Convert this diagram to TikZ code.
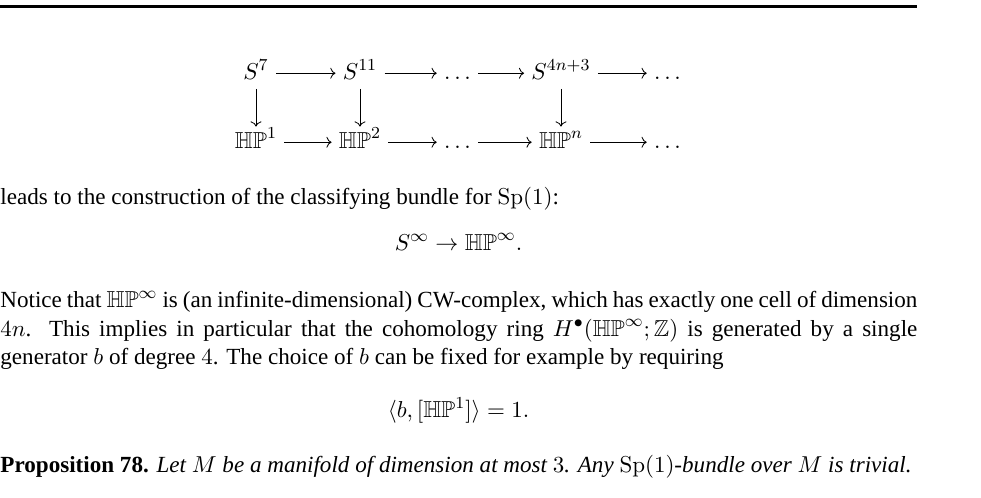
\documentclass[tikz,border=0pt]{standalone}
\usepackage{amssymb}
\usepackage[no-math]{fontspec}
\setmainfont{Liberation Serif}
\usetikzlibrary{arrows.meta}
\newcommand{\HPq}{\mathbb{HP}}
\tikzset{
  body/.style={font=\fontsize{11}{13.6}\selectfont},
  txt/.style={body, anchor=base west, inner sep=0pt},
  ctr/.style={body, anchor=base, inner sep=0pt},
  cell/.style={body, anchor=base, inner xsep=3.3pt, inner ysep=3.5pt, text height=6.5pt, text depth=1pt},
  arr/.style={-{Computer Modern Rightarrow}, line width=0.4pt},
}
\begin{document}
\begin{tikzpicture}[x=0.47619pt, y=-0.47619pt]
\useasboundingbox (0,0) rectangle (981,497);
% header rule
\coordinate (rl) at (0,6.5);
\coordinate (rr) at (917,6.5);
\draw[line width=1.2pt] (rl) -- (rr);
% diagram
\node[cell] (s7)  at (256,79) {$S^7$};
\node[cell] (s11) at (360,79) {$S^{11}$};
\node[cell] (d1)  at (457.5,79) {$\ldots$};
\node[cell] (s4n) at (561,79) {$S^{4n+3}$};
\node[cell] (d2)  at (667.5,79) {$\ldots$};
\node[cell] (h1)  at (256,148) {$\HPq^1$};
\node[cell] (h2)  at (360,148) {$\HPq^2$};
\node[cell] (d3)  at (457.5,148) {$\ldots$};
\node[cell] (hn)  at (561,148) {$\HPq^n$};
\node[cell] (d4)  at (667.5,148) {$\ldots$};
\draw[arr] (s7) -- (s11);
\draw[arr] (s11) -- (d1);
\draw[arr] (d1) -- (s4n);
\draw[arr] (s4n) -- (d2);
\draw[arr] (h1) -- (h2);
\draw[arr] (h2) -- (d3);
\draw[arr] (d3) -- (hn);
\draw[arr] (hn) -- (d4);
\draw[arr] (s7) -- (h1);
\draw[arr] (s11) -- (h2);
\draw[arr] (s4n) -- (hn);
% text
\node[txt] (t1) at (0,204) {leads to the construction of the classifying bundle for $\mathrm{Sp}(1)$:};
\node[ctr] (t2) at (458.5,250) {$S^\infty \to \HPq^\infty.$};
\node[txt] (t3) at (0,307.5) {\makebox[436.67pt][s]{Notice that $\HPq^\infty$ is (an infinite-dimensional) CW-complex, which has exactly one cell of dimension}};
\node[txt] (t4) at (0,336) {\makebox[436.67pt][s]{$4n$. This implies in particular that the cohomology ring $H^\bullet(\HPq^\infty;\mathbb{Z})$ is generated by a single}};
\node[txt] (t5) at (0,364.5) {generator $b$ of degree $4$. The choice of $b$ can be fixed for example by requiring};
\node[ctr] (t6) at (458.5,417.5) {$\langle b,[\HPq^1]\rangle=1.$};
\node[txt] (t7) at (0,472) {\textbf{Proposition 78.} \textit{Let $M$ be a manifold of dimension at most $3$. Any $\mathrm{Sp}(1)$-bundle over $M$ is trivial.}};
\end{tikzpicture}
\end{document}
